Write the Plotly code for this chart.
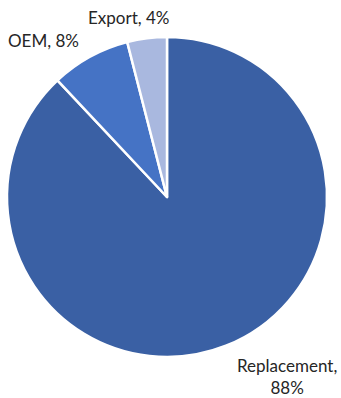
import plotly.graph_objects as go

# Segment shares (%)
categories = ["Replacement", "OEM", "Export"]
shares = [88, 8, 4]
colors = ["#3A60A4", "#4573C5", "#A9B8DF"]

W, H = 341, 398
cx, cy, r = 167, 197, 160

fig = go.Figure(
    go.Pie(
        labels=categories,
        values=shares,
        sort=False,
        direction="clockwise",
        rotation=0,
        marker=dict(colors=colors, line=dict(color="white", width=2.5)),
        textinfo="none",
        hoverinfo="label+percent",
        domain=dict(
            x=[(cx - r) / W, (cx + r) / W],
            y=[1 - (cy + r) / H, 1 - (cy - r) / H],
        ),
        showlegend=False,
    )
)

# Outside data labels: (x, y) pixel centre and whether to wrap after the name
label_pos = {
    "Export": (128, 17, False),
    "OEM": (43, 40, False),
    "Replacement": (287, 376, True),
}
font = dict(family="Lato", size=17, color="#262626")
for name, val in zip(categories, shares):
    x, y, wrap = label_pos[name]
    sep = ",<br>" if wrap else ", "
    fig.add_annotation(
        x=x / W, y=1 - y / H, xref="paper", yref="paper",
        text=f"{name}{sep}{val}%", showarrow=False,
        xanchor="center", yanchor="middle", align="center",
        font=font,
    )

fig.update_layout(
    width=W, height=H,
    margin=dict(l=0, r=0, t=0, b=0),
    paper_bgcolor="white", plot_bgcolor="white",
)

fig.write_html("out.html")
